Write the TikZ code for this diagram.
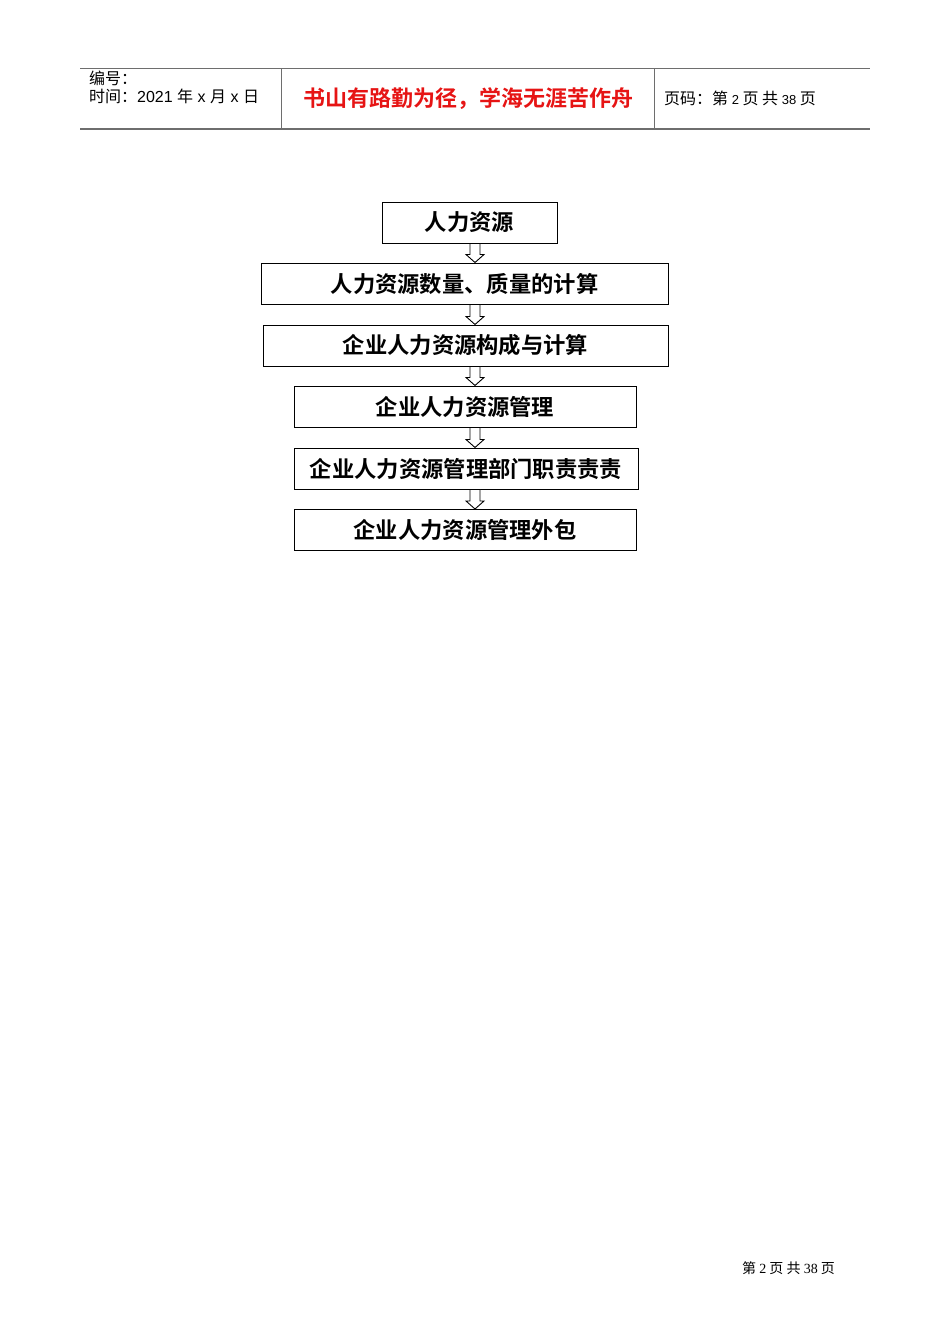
\documentclass[tikz,border=0pt]{standalone}
\usepackage{fontspec}
\setmainfont{Liberation Sans}
\newfontfamily\cjk{Noto Sans CJK SC}
\newfontfamily\cjkb{Noto Sans CJK SC Bold}
\newfontfamily\lat{Liberation Sans}
\usetikzlibrary{calc}
\definecolor{hdrline}{RGB}{110,110,110}
\definecolor{mottored}{RGB}{230,20,20}
\tikzset{
  flowbox/.style={draw, line width=1pt, minimum height=41pt, inner sep=0pt, font=\cjkb\fontsize{22.3}{22.3}\selectfont},
  hollowarrow/.style={draw, line width=0.9pt, fill=white},
  hdrtext/.style={anchor=west, inner sep=0pt, font=\cjk\fontsize{16}{16}\selectfont}
}
\newcommand{\blockarrowto}[2]{%
  \draw[hollowarrow] let \p1=(#1.south), \p2=(#2.north) in
    (470pt,\y1) -- (480pt,\y1) -- (480pt,\y2+8pt) -- (484pt,\y2+8pt) -- (475pt,\y2)
    -- (466pt,\y2+8pt) -- (470pt,\y2+8pt) -- cycle;}
\begin{document}
\begin{tikzpicture}[x=1pt,y=-1pt]
\useasboundingbox (0,0) rectangle (950,1344);
% header
\draw[hdrline, line width=1pt] (80,68.5) -- (870,68.5);
\draw[hdrline, line width=1.6pt] (80,129) -- (870,129);
\draw[hdrline, line width=0.8pt] (281,68.5) -- (281,129);
\draw[hdrline, line width=0.8pt] (654,68.5) -- (654,129);
\node[hdrtext] (bh) at (89,78) {编号：};
\node[hdrtext] (sj) at (89,96) {时间：{\lat\fontsize{16}{16}\selectfont 2021 }年{\lat\fontsize{16}{16}\selectfont\ x }月{\lat\fontsize{16}{16}\selectfont\ x }日};
\node[inner sep=0pt, text=mottored, font=\cjkb\fontsize{22}{22}\selectfont] (motto) at (468,99) {书山有路勤为径，学海无涯苦作舟};
\node[hdrtext] (ym) at (664,98) {页码：第{\lat\fontsize{13}{13}\selectfont\ 2 }页 共{\lat\fontsize{13}{13}\selectfont\ 38 }页};
% flow
\node[flowbox, minimum width=175pt] (n1) at (469.5,222.5) {人力资源};
\node[flowbox, minimum width=407pt] (n2) at (464.5,283.5) {人力资源数量、质量的计算};
\node[flowbox, minimum width=405pt] (n3) at (465.5,345.5) {企业人力资源构成与计算};
\node[flowbox, minimum width=342pt] (n4) at (465,406.5) {企业人力资源管理};
\node[flowbox, minimum width=344pt] (n5) at (466,468.5) {企业人力资源管理部门职责责责};
\node[flowbox, minimum width=342pt] (n6) at (465,530) {企业人力资源管理外包};
\blockarrowto{n1}{n2}
\blockarrowto{n2}{n3}
\blockarrowto{n3}{n4}
\blockarrowto{n4}{n5}
\blockarrowto{n5}{n6}
% footer
\node[inner sep=0pt, anchor=west, font=\cjk\fontsize{14}{14}\selectfont] (ft) at (742,1268) {第 {\fontspec{Liberation Serif}2} 页 共 {\fontspec{Liberation Serif}38} 页};
\end{tikzpicture}
\end{document}
